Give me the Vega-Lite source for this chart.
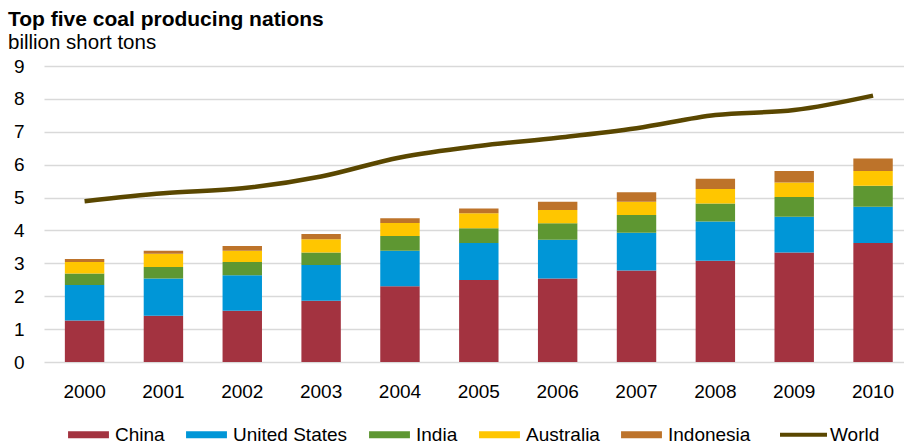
{
  "$schema": "https://vega.github.io/schema/vega-lite/v6.json",
  "width": 860,
  "height": 296,
  "autosize": "none",
  "padding": {"left": 44, "top": 66, "right": 0, "bottom": 82},
  "background": "white",
  "title": {
    "text": "Top five coal producing nations",
    "subtitle": "billion short tons",
    "anchor": "start",
    "frame": "group",
    "dx": -36,
    "offset": 4,
    "font": "Liberation Sans",
    "fontSize": 21,
    "fontWeight": "bold",
    "color": "#000000",
    "subtitleFont": "Liberation Sans",
    "subtitleFontSize": 20.5,
    "subtitleColor": "#000000",
    "subtitlePadding": 3
  },
  "config": {
    "view": {"stroke": null},
    "axis": {
      "labelFont": "Liberation Sans",
      "labelFontSize": 19,
      "labelColor": "#000000",
      "ticks": false,
      "domain": false,
      "title": null
    }
  },
  "datasets": {
    "coal": [
      {"year": "2000", "series": "China", "value": 1.26},
      {"year": "2000", "series": "United States", "value": 1.08},
      {"year": "2000", "series": "India", "value": 0.35},
      {"year": "2000", "series": "Australia", "value": 0.35},
      {"year": "2000", "series": "Indonesia", "value": 0.09},
      {"year": "2000", "series": "World", "value": 4.89},
      {"year": "2001", "series": "China", "value": 1.41},
      {"year": "2001", "series": "United States", "value": 1.13},
      {"year": "2001", "series": "India", "value": 0.35},
      {"year": "2001", "series": "Australia", "value": 0.40},
      {"year": "2001", "series": "Indonesia", "value": 0.09},
      {"year": "2001", "series": "World", "value": 5.13},
      {"year": "2002", "series": "China", "value": 1.56},
      {"year": "2002", "series": "United States", "value": 1.08},
      {"year": "2002", "series": "India", "value": 0.40},
      {"year": "2002", "series": "Australia", "value": 0.34},
      {"year": "2002", "series": "Indonesia", "value": 0.15},
      {"year": "2002", "series": "World", "value": 5.28},
      {"year": "2003", "series": "China", "value": 1.86},
      {"year": "2003", "series": "United States", "value": 1.09},
      {"year": "2003", "series": "India", "value": 0.38},
      {"year": "2003", "series": "Australia", "value": 0.40},
      {"year": "2003", "series": "Indonesia", "value": 0.16},
      {"year": "2003", "series": "World", "value": 5.64},
      {"year": "2004", "series": "China", "value": 2.30},
      {"year": "2004", "series": "United States", "value": 1.08},
      {"year": "2004", "series": "India", "value": 0.45},
      {"year": "2004", "series": "Australia", "value": 0.40},
      {"year": "2004", "series": "Indonesia", "value": 0.14},
      {"year": "2004", "series": "World", "value": 6.22},
      {"year": "2005", "series": "China", "value": 2.49},
      {"year": "2005", "series": "United States", "value": 1.13},
      {"year": "2005", "series": "India", "value": 0.45},
      {"year": "2005", "series": "Australia", "value": 0.45},
      {"year": "2005", "series": "Indonesia", "value": 0.15},
      {"year": "2005", "series": "World", "value": 6.57},
      {"year": "2006", "series": "China", "value": 2.54},
      {"year": "2006", "series": "United States", "value": 1.18},
      {"year": "2006", "series": "India", "value": 0.50},
      {"year": "2006", "series": "Australia", "value": 0.40},
      {"year": "2006", "series": "Indonesia", "value": 0.25},
      {"year": "2006", "series": "World", "value": 6.82},
      {"year": "2007", "series": "China", "value": 2.78},
      {"year": "2007", "series": "United States", "value": 1.15},
      {"year": "2007", "series": "India", "value": 0.54},
      {"year": "2007", "series": "Australia", "value": 0.40},
      {"year": "2007", "series": "Indonesia", "value": 0.29},
      {"year": "2007", "series": "World", "value": 7.11},
      {"year": "2008", "series": "China", "value": 3.08},
      {"year": "2008", "series": "United States", "value": 1.19},
      {"year": "2008", "series": "India", "value": 0.55},
      {"year": "2008", "series": "Australia", "value": 0.44},
      {"year": "2008", "series": "Indonesia", "value": 0.31},
      {"year": "2008", "series": "World", "value": 7.51},
      {"year": "2009", "series": "China", "value": 3.33},
      {"year": "2009", "series": "United States", "value": 1.09},
      {"year": "2009", "series": "India", "value": 0.60},
      {"year": "2009", "series": "Australia", "value": 0.44},
      {"year": "2009", "series": "Indonesia", "value": 0.35},
      {"year": "2009", "series": "World", "value": 7.66},
      {"year": "2010", "series": "China", "value": 3.62},
      {"year": "2010", "series": "United States", "value": 1.10},
      {"year": "2010", "series": "India", "value": 0.64},
      {"year": "2010", "series": "Australia", "value": 0.45},
      {"year": "2010", "series": "Indonesia", "value": 0.38},
      {"year": "2010", "series": "World", "value": 8.10}
    ],
    "stackOrder": [
      {"series": "China", "rank": 1},
      {"series": "United States", "rank": 2},
      {"series": "India", "rank": 3},
      {"series": "Australia", "rank": 4},
      {"series": "Indonesia", "rank": 5}
    ]
  },
  "data": {"name": "coal"},
  "encoding": {
    "x": {
      "field": "year",
      "type": "ordinal",
      "scale": {"paddingInner": 0.5, "paddingOuter": 0.2035, "align": 0.65},
      "axis": {"labelAngle": 0, "labelPadding": 20, "grid": false}
    },
    "color": {
      "field": "series",
      "type": "nominal",
      "sort": ["China", "United States", "India", "Australia", "Indonesia", "World"],
      "scale": {
        "domain": ["China", "United States", "India", "Australia", "Indonesia", "World"],
        "range": ["#A33340", "#0096D7", "#5E9732", "#FFC600", "#BD732A", "#5A4700"]
      },
      "legend": {
        "orient": "none",
        "legendX": 35,
        "legendY": 359,
        "direction": "horizontal",
        "columns": 6,
        "title": null,
        "labelFont": "Liberation Sans",
        "labelFontSize": 19,
        "labelColor": "#000000",
        "columnPadding": 21,
        "labelOffset": 17,
        "symbolSize": 2209,
        "symbolType": "M-0.87,-0.15H0.87V0.15H-0.87Z",
        "encode": {
          "symbols": {
            "update": {
              "shape": {"signal": "datum.value === 'World' ? 'M-1,0H1' : 'M-0.87,-0.15H0.87V0.15H-0.87Z'"},
              "fill": {"signal": "datum.value === 'World' ? 'transparent' : scale('color', datum.value)"},
              "stroke": {"signal": "datum.value === 'World' ? scale('color', datum.value) : 'transparent'"},
              "strokeWidth": {"signal": "datum.value === 'World' ? 4 : 0"},
              "opacity": {"value": 1}
            }
          }
        }
      }
    }
  },
  "layer": [
    {
      "transform": [
        {"filter": "datum.series !== 'World'"},
        {"lookup": "series", "from": {"data": {"name": "stackOrder"}, "key": "series", "fields": ["rank"]}}
      ],
      "mark": {"type": "bar"},
      "encoding": {
        "y": {
          "field": "value",
          "type": "quantitative",
          "stack": "zero",
          "scale": {"domain": [0, 9], "nice": false},
          "axis": {
            "values": [0, 1, 2, 3, 4, 5, 6, 7, 8, 9],
            "labelPadding": 20,
            "grid": true,
            "gridColor": "#D9D9D9",
            "gridWidth": 1.5
          }
        },
        "order": {"field": "rank", "type": "quantitative", "sort": "ascending"}
      }
    },
    {
      "transform": [{"filter": "datum.series === 'World'"}],
      "mark": {"type": "line", "strokeWidth": 4.5, "interpolate": "monotone"},
      "encoding": {
        "y": {
          "field": "value",
          "type": "quantitative",
          "scale": {"domain": [0, 9], "nice": false},
          "axis": {
            "values": [0, 1, 2, 3, 4, 5, 6, 7, 8, 9],
            "labelPadding": 20,
            "grid": true,
            "gridColor": "#D9D9D9",
            "gridWidth": 1.5
          }
        }
      }
    }
  ]
}
